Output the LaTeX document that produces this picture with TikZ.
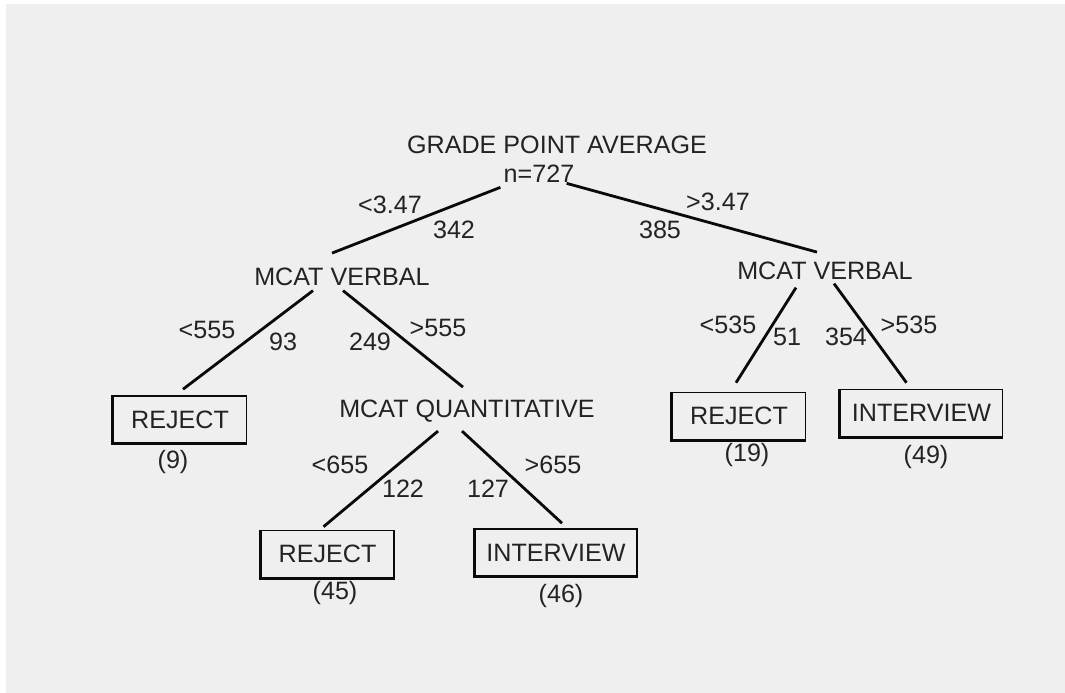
\documentclass[tikz,border=0pt]{standalone}
\usepackage{fontspec}
\setmainfont{Liberation Sans}
\usepackage{tikz}
\usetikzlibrary{positioning, calc}
\definecolor{mybg}{RGB}{239,239,239}
\definecolor{mytext}{RGB}{35,35,35}
\definecolor{myline}{RGB}{10,10,10}
\tikzset{
  treefont/.style={font=\fontsize{14.3}{17}\selectfont, text=mytext},
  split/.style={treefont, inner sep=0pt, anchor=base},
  cut/.style={treefont, inner sep=0pt, anchor=base},
  count/.style={treefont, inner sep=0pt, anchor=base},
  leaf/.style={rectangle, draw=myline, treefont, line width=0.9pt,
    minimum width=2.66cm, minimum height=0.94cm, inner sep=0pt},
  wideleaf/.style={leaf, minimum width=3.24cm},
  leafedge/.style={draw=myline, line width=1.7pt},
  branch/.style={draw=myline, line width=1.6pt}
}
\begin{document}
\begin{tikzpicture}[x=0.02cm, y=-0.02cm]
  % Background panel
  \fill[white] (0,0) rectangle (1065,693);
  \fill[mybg] (6,4) rectangle (1065,693);
  \useasboundingbox (0,0) rectangle (1065,693);

  % Split nodes
  \node[split] (gpa)  at (557,153) {GRADE POINT AVERAGE};
  \node[split] (n727) at (539,182) {n=727};
  \node[split] (mvl)  at (342,285) {MCAT VERBAL};
  \node[split] (mvr)  at (825,279) {MCAT VERBAL};
  \node[split] (mq)   at (467,417) {MCAT QUANTITATIVE};

  % Leaf boxes
  \node[leaf]     (r9)  at (180,419.5) {REJECT};
  \node[leaf]     (r45) at (327.5,554) {REJECT};
  \node[wideleaf] (i46) at (556,552.5) {INTERVIEW};
  \node[leaf]     (r19) at (739,416)   {REJECT};
  \node[wideleaf] (i49) at (921.5,413) {INTERVIEW};
  \foreach \b in {r9,r45,i46,r19,i49}
    \draw[leafedge] (\b.north west) |- (\b.south east);

  % Leaf counts
  \node[count] (c9)  at (173,468) {(9)};
  \node[count] (c45) at (335,599) {(45)};
  \node[count] (c46) at (561,602) {(46)};
  \node[count] (c19) at (747,461) {(19)};
  \node[count] (c49) at (926,463) {(49)};

  % Branches
  \draw[branch] ($(n727.south west)+(-3,5)$) -- ($(mvl.north)+(-10,-14)$);
  \draw[branch] ($(n727.south east)+(-8,1)$) -- ($(mvr.north)+(-8,-9)$);
  \draw[branch] ($(mvl.south)+(-29,5)$) -- ($(r9.north)+(3,-6)$);
  \draw[branch] ($(mvl.south)+(1,5)$) -- ($(mq.north)+(-4,-12)$);
  \draw[branch] ($(mq.south)+(-29,9)$) -- ($(r45.north)+(-4,-3)$);
  \draw[branch] ($(mq.south)+(-5,9)$) -- ($(i46.north)+(6,-5)$);
  \draw[branch] ($(mvr.south)+(-29,8)$) -- ($(r19.north)+(-3,-9)$);
  \draw[branch] ($(mvr.south)+(9,4)$) -- ($(i49.north)+(-15,-6)$);

  % Cut points and branch sizes
  \node[cut] (gpalo) at (390,213) {<3.47};
  \node[cut] (gpaln) at (454,238) {342};
  \node[cut] (gparn) at (660,238) {385};
  \node[cut] (gpahi) at (718,210) {>3.47};
  \node[cut] (mvllo) at (207,338) {<555};
  \node[cut] (mvlln) at (283,350) {93};
  \node[cut] (mvlrn) at (370,350) {249};
  \node[cut] (mvlhi) at (438,336) {>555};
  \node[cut] (mqlo)  at (340,473) {<655};
  \node[cut] (mqln)  at (403,497) {122};
  \node[cut] (mqrn)  at (488,497) {127};
  \node[cut] (mqhi)  at (553,473) {>655};
  \node[cut] (mvrlo) at (728,333) {<535};
  \node[cut] (mvrln) at (787,345) {51};
  \node[cut] (mvrrn) at (846,345) {354};
  \node[cut] (mvrhi) at (909,333) {>535};
\end{tikzpicture}
\end{document}
